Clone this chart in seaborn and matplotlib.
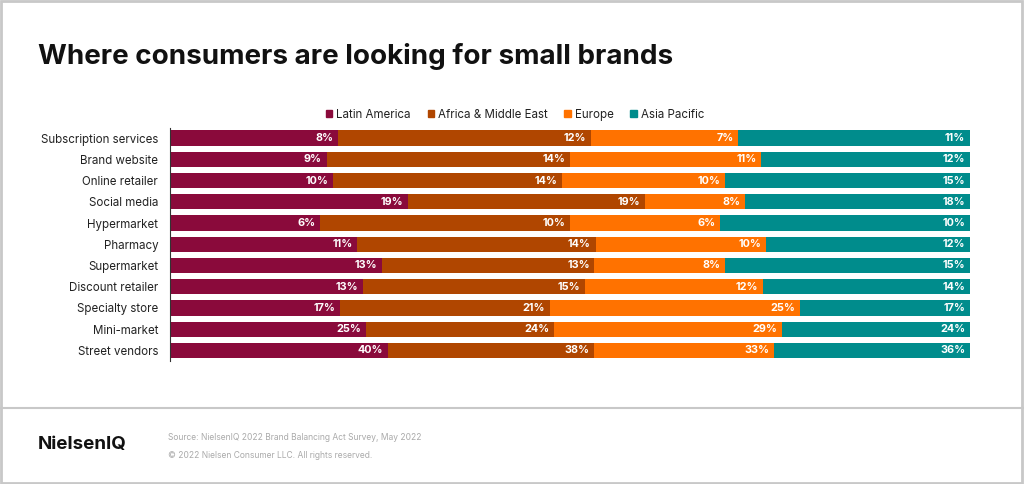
import matplotlib
matplotlib.use("Agg")
import matplotlib.pyplot as plt
import seaborn as sns
import numpy as np
import pandas as pd
from matplotlib.patches import Rectangle
from matplotlib.lines import Line2D

categories = ["Subscription services", "Brand website", "Online retailer", "Social media",
              "Hypermarket", "Pharmacy", "Supermarket", "Discount retailer",
              "Specialty store", "Mini-market", "Street vendors"]
series = ["Latin America", "Africa & Middle East", "Europe", "Asia Pacific"]
latin_america = [8, 9, 10, 19, 6, 11, 13, 13, 17, 25, 40]
africa_me = [12, 14, 14, 19, 10, 14, 13, 15, 21, 24, 38]
europe = [7, 11, 10, 8, 6, 10, 8, 12, 25, 29, 33]
asia_pacific = [11, 12, 15, 18, 10, 12, 15, 14, 17, 24, 36]
colors = ["#8a0a3b", "#b04600", "#ff7200", "#008c8c"]

sns.set_theme(style="white")
plt.rcParams['font.family'] = ['Inter', 'DejaVu Sans']

vals = np.array([latin_america, africa_me, europe, asia_pacific], dtype=float)
shares = vals / vals.sum(axis=0)
cum = np.cumsum(shares, axis=0)

fig = plt.figure(figsize=(10.24, 4.84), dpi=100)
ax = fig.add_axes([170/1024, 1 - 361/484, 800/1024, (361 - 127.5)/484])

df = pd.DataFrame({"category": categories})
for k in range(3, -1, -1):
    df["v"] = cum[k]
    sns.barplot(data=df, x="v", y="category", color=colors[k], width=0.72,
                saturation=1, ax=ax, orient="h", linewidth=0, edgecolor="none")

for k in range(4):
    for i in range(len(categories)):
        ax.text(cum[k][i] - 0.006, i, f"{int(vals[k][i])}%", ha="right", va="center",
                color="white", fontsize=7.8, fontweight="bold")

ax.set_xlim(0, 1)
ax.set_ylim(10.5, -0.5)
ax.set_xlabel("")
ax.set_ylabel("")
ax.set_xticks([])
for s in ["top", "right", "bottom"]:
    ax.spines[s].set_visible(False)
ax.spines["left"].set_color("#333333")
ax.spines["left"].set_linewidth(0.8)
ax.tick_params(axis="y", length=0, pad=8.5, labelsize=8.3, labelcolor="#222222")

handles = [Rectangle((0, 0), 1, 1, color=c) for c in colors]
fig.legend(handles, series, loc="center", bbox_to_anchor=(515/1024, 1 - 115/484),
           ncol=4, frameon=False, fontsize=8.3, handlelength=0.55, handleheight=0.55,
           handletextpad=0.35, columnspacing=1.45, labelcolor="#222222")

fig.text(38/1024, 1 - 57/484, "Where consumers are looking for small brands",
         fontsize=20, fontweight="bold", color="#111111", va="center", ha="left")

fig.text(38/1024, 1 - 445/484, "NielsenIQ", fontsize=13.5, fontweight="bold",
         color="#111111", va="center", ha="left")
fig.text(168/1024, 1 - 438/484, "Source: NielsenIQ 2022 Brand Balancing Act Survey, May 2022",
         fontsize=6.1, color="#aaaaaa", va="center", ha="left")
fig.text(168/1024, 1 - 455/484, "\u00a9 2022 Nielsen Consumer LLC. All rights reserved.",
         fontsize=6.1, color="#aaaaaa", va="center", ha="left")

fig.add_artist(Rectangle((0.001, 0.002), 0.997, 0.995, transform=fig.transFigure,
                         fill=False, edgecolor="#c8c8c8", linewidth=2))
fig.add_artist(Line2D([0, 1], [1 - 408/484, 1 - 408/484], transform=fig.transFigure,
                      color="#c8c8c8", linewidth=1.5))

fig.savefig("out.png", dpi=100, facecolor="white")
